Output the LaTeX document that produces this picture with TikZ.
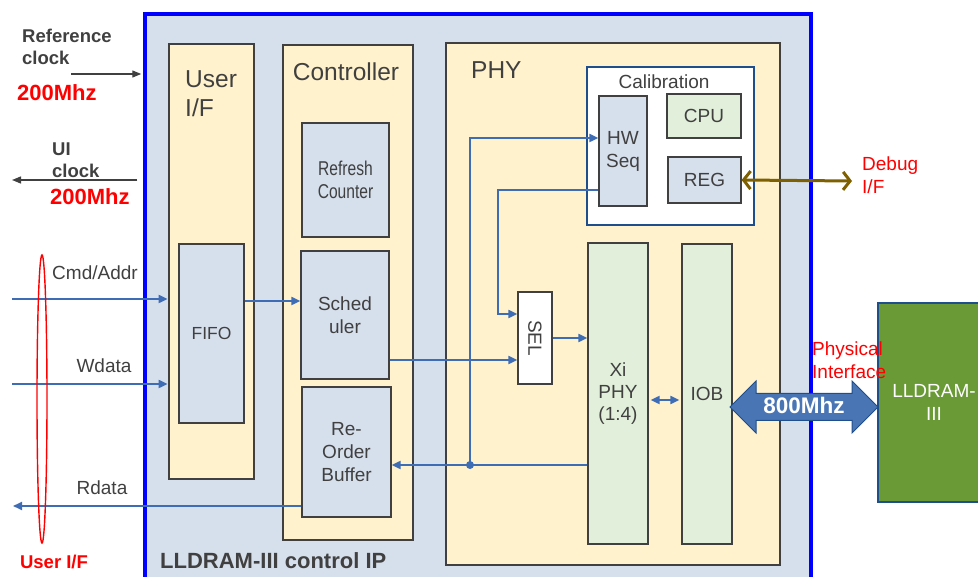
\documentclass[tikz,border=0pt]{standalone}
\usepackage{fontspec}
\setmainfont{Liberation Sans}
\newfontfamily\narrowfont[FakeStretch=0.78]{Liberation Sans}
\usepackage{graphicx}
\usetikzlibrary{arrows.meta,shapes.arrows}
\definecolor{ipblue}{HTML}{0000FF}
\definecolor{ipfill}{HTML}{D6DFEC}
\definecolor{cream}{HTML}{FFF2CC}
\definecolor{blkfill}{HTML}{D6DFEC}
\definecolor{grnfill}{HTML}{E2EFDA}
\definecolor{sigblue}{HTML}{3E6DB5}
\definecolor{txtgray}{HTML}{404040}
\definecolor{calblue}{HTML}{1F4E8C}
\definecolor{dbgcol}{HTML}{7F6000}
\definecolor{ramgreen}{HTML}{6A9A35}
\definecolor{bigfill}{HTML}{4A75B5}
\definecolor{hotred}{HTML}{FF0000}

\tikzset{
  group/.style={draw=txtgray, line width=2.8pt, fill=cream, inner sep=0pt},
  block/.style={draw=txtgray, line width=1.3pt, fill=blkfill, inner sep=0pt,
    align=center, text=txtgray, font=\fontsize{19}{23}\selectfont},
  gtitle/.style={inner sep=0pt, text=txtgray, align=left, font=\fontsize{24.5}{29}\selectfont},
  note/.style={inner sep=0pt, text=txtgray, font=\fontsize{19}{23}\selectfont},
  bnote/.style={inner sep=0pt, text=txtgray, align=left, font=\fontsize{18.5}{22.5}\selectfont\bfseries},
  rednote/.style={inner sep=0pt, text=hotred, align=left, font=\fontsize{19}{23}\selectfont},
  sig/.style={draw=sigblue, line width=2pt},
  sigarr/.style={sig, -{Triangle[length=9pt,width=8pt]}},
  clk/.style={draw=txtgray, line width=1.3pt, -{Triangle[length=9pt,width=7pt]}},
  dbg/.style={draw=dbgcol, line width=3pt,
    {Straight Barb[length=7pt,width=18pt]}-{Straight Barb[length=7pt,width=18pt]}},
  bigarrow/.style={double arrow, draw=calblue, line width=1pt, fill=bigfill,
    minimum height=148pt, double arrow head extend=12.5pt, double arrow tip angle=90,
    inner xsep=2pt, inner ysep=4.5pt, text height=15pt, text depth=2pt, text=white,
    font=\fontsize{22.5}{26}\selectfont\bfseries}
}

\begin{document}
\begin{tikzpicture}[x=1pt, y=-1pt]
  \useasboundingbox (0,0) rectangle (978,577);
  \clip (0,0) rectangle (978,577);

  % control IP frame and the three groups
  \node[draw=ipblue, line width=3.5pt, fill=ipfill, minimum width=666pt, minimum height=586pt] (ip) at (478,307) {};
  \node[group, minimum width=85pt, minimum height=435pt] (userif) at (211.5,261.5) {};
  \node[group, minimum width=130pt, minimum height=495pt] (ctrl) at (348,292.5) {};
  \node[group, minimum width=334pt, minimum height=522pt] (phy) at (613,304) {};
  \node[gtitle, anchor=west] (uiftitle) at (185,94) {User\\I/F};
  \node[gtitle] (ctrltitle) at (346,72) {Controller};
  \node[gtitle, anchor=west] (phytitle) at (471,70) {PHY};

  % blocks
  \node[block, minimum width=65pt, minimum height=179pt, font=\fontsize{17.5}{21}\selectfont] (fifo) at (211.5,333.5) {FIFO};
  \node[block, minimum width=87pt, minimum height=114pt, font=\narrowfont\fontsize{20}{23}\selectfont] (refresh) at (345.5,180) {Refresh\\Counter};
  \node[block, minimum width=88pt, minimum height=128pt] (sched) at (345,315) {Sched\\uler};
  \node[block, minimum width=89pt, minimum height=130pt] (rob) at (346.5,452) {Re-\\Order\\Buffer};
  \node[draw=calblue, line width=2.5pt, fill=white, minimum width=167pt, minimum height=158pt] (calib) at (670.5,146) {};
  \node[note] (caltitle) at (664,82) {Calibration};
  \node[block, minimum width=48pt, minimum height=110pt] (hwseq) at (623,151) {HW\\Seq};
  \node[block, fill=grnfill, minimum width=74pt, minimum height=44pt] (cpu) at (704,116) {CPU};
  \node[block, minimum width=73pt, minimum height=46pt] (reg) at (704.5,180) {REG};
  \node[block, fill=white, minimum width=34pt, minimum height=92pt] (sel) at (535,338) {\rotatebox{-90}{SEL}};
  \node[block, fill=grnfill, minimum width=60pt, minimum height=301pt, font=\fontsize{19}{22}\selectfont] (xiphy) at (618,393.5) {Xi\\PHY\\(1:4)};
  \node[block, fill=grnfill, minimum width=50pt, minimum height=300pt] (iob) at (707,394) {IOB};
  \node[draw=calblue, line width=1.2pt, fill=ramgreen, minimum width=112pt, minimum height=199pt,
    text=white, align=center, font=\fontsize{19}{23}\selectfont] (lldram) at (934,402.5) {LLDRAM-\\III};

  % free ends of the connectors
  \coordinate (refR) at (71,74);
  \coordinate (uiL) at (12,180);
  \coordinate (cmdL) at (12,299);
  \coordinate (wdL) at (12,384);
  \coordinate (rdL) at (13,506);
  \coordinate (fsY) at (0,301);
  \coordinate (ssY) at (0,360);
  \coordinate (hwR) at (498,190);
  \coordinate (hsY) at (0,314);
  \coordinate (hwT) at (0,138);
  \coordinate (jn) at (470,465);
  \coordinate (xiY) at (0,400);
  \coordinate (dbgR) at (852,181);

  % clocks
  \draw[clk, shorten >=2pt] (refR) -- (ip.west |- refR);
  \draw[clk, shorten <=6pt] (ip.west |- uiL) -- (uiL);

  % user side signals
  \draw[sigarr] (cmdL) -- (userif.west |- cmdL);
  \draw[sigarr] (wdL) -- (userif.west |- wdL);
  \draw[sigarr] (rob.west |- rdL) -- (rdL);
  \draw[sigarr] (fifo.east |- fsY) -- (sched.west |- fsY);
  \draw[sigarr] (sched.east |- ssY) -- (sel.west |- ssY);

  % PHY paths
  \draw[sigarr] (hwseq.west |- hwR) -- (hwR) |- (sel.west |- hsY);
  \draw[sigarr] (sel.east) -- (sel.east -| xiphy.west);
  \draw[sig] (xiphy.west |- jn) -- (jn);
  \draw[sigarr] (jn) -- (rob.east |- jn);
  \draw[sigarr] (jn) |- (hwseq.west |- hwT);
  \fill[sigblue] (jn) circle (4pt);
  \draw[sig, {Triangle[length=9pt,width=8pt]}-{Triangle[length=9pt,width=8pt]}, shorten <=2pt, shorten >=2pt]
    (xiphy.east |- xiY) -- (iob.west |- xiY);
  \draw[dbg] (reg.east) -- (dbgR);
  \node[bigarrow] (phyif) at (804,407) {800Mhz};

  % user I/F bundle
  \draw[hotred, line width=1.4pt] (42,399) ellipse [x radius=5pt, y radius=144pt];

  % labels
  \node[bnote, anchor=west] (reflbl) at (22,47) {Reference\\clock};
  \node[bnote, anchor=west, text=hotred, font=\fontsize{22}{26}\selectfont\bfseries] (refmhz) at (17,93) {200Mhz};
  \node[bnote, anchor=west] (uilbl) at (52,160) {UI\\clock};
  \node[bnote, anchor=west, text=hotred, font=\fontsize{22}{26}\selectfont\bfseries] (uimhz) at (50,197) {200Mhz};
  \node[note] (cmdlbl) at (95,273) {Cmd/Addr};
  \node[note] (wdlbl) at (104,366) {Wdata};
  \node[note] (rdlbl) at (102,488) {Rdata};
  \node[bnote, text=hotred] (uiflbl) at (54,562) {User I/F};
  \node[bnote, anchor=west, font=\fontsize{22}{26}\selectfont\bfseries] (iplbl) at (160,561) {LLDRAM-III control IP};
  \node[rednote, anchor=west] (dbglbl) at (862,175) {Debug\\I/F};
  \node[rednote, anchor=west] (physlbl) at (812,360) {Physical\\Interface};
\end{tikzpicture}
\end{document}
